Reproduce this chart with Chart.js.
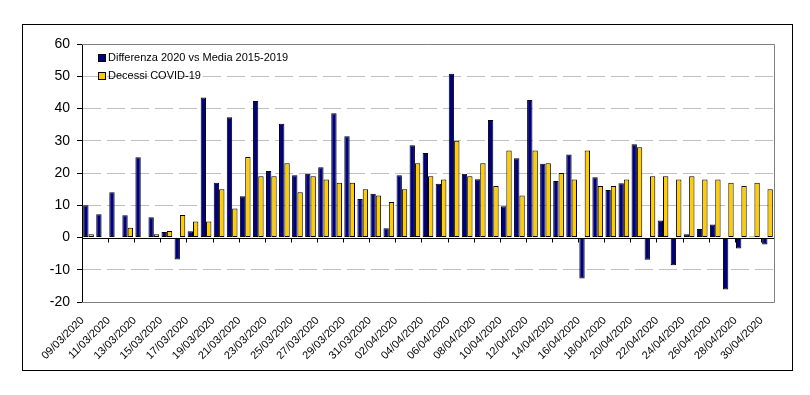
<!DOCTYPE html>
<html>
<head>
<meta charset="utf-8">
<script src="https://cdn.jsdelivr.net/npm/chart.js@4.4.1/dist/chart.umd.min.js"></script>
<style>
    body { margin: 0; background: #fff; }
    #contenitore { position: relative; width: 810px; height: 395px; }
    #cornice {
        position: absolute; left: 22px; top: 24px; width: 769px; height: 345px;
        border: 1px solid #000; pointer-events: none;
    }
    #legenda {
        position: absolute; left: 98px; top: 49px;
        font-family: Arial, "Liberation Sans", sans-serif; font-size: 11px; color: #000;
    }
    .voce { height: 17.5px; line-height: 17px; white-space: nowrap; }
    .quadrato {
        display: inline-block; width: 6px; height: 6px; border: 1px solid #000;
        margin-right: 2px; vertical-align: -1px;
    }
</style>
</head>
<body>
<div id="contenitore">
    <canvas id="grafico" width="810" height="395"></canvas>
    <div id="cornice"></div>
    <div id="legenda"></div>
</div>
<script>
var date = [
    "09/03/2020", "10/03/2020", "11/03/2020", "12/03/2020", "13/03/2020", "14/03/2020",
    "15/03/2020", "16/03/2020", "17/03/2020", "18/03/2020", "19/03/2020", "20/03/2020",
    "21/03/2020", "22/03/2020", "23/03/2020", "24/03/2020", "25/03/2020", "26/03/2020",
    "27/03/2020", "28/03/2020", "29/03/2020", "30/03/2020", "31/03/2020", "01/04/2020",
    "02/04/2020", "03/04/2020", "04/04/2020", "05/04/2020", "06/04/2020", "07/04/2020",
    "08/04/2020", "09/04/2020", "10/04/2020", "11/04/2020", "12/04/2020", "13/04/2020",
    "14/04/2020", "15/04/2020", "16/04/2020", "17/04/2020", "18/04/2020", "19/04/2020",
    "20/04/2020", "21/04/2020", "22/04/2020", "23/04/2020", "24/04/2020", "25/04/2020",
    "26/04/2020", "27/04/2020", "28/04/2020", "29/04/2020", "30/04/2020"
];

var differenza = [
    10.0, 7.2, 14.0, 6.9, 24.9, 6.3, 1.7, -6.8, 1.9, 43.4, 17.0, 37.3,
    12.8, 42.3, 20.6, 35.3, 19.3, 19.8, 21.8, 38.5, 31.4, 11.9, 13.6, 2.9,
    19.3, 28.6, 26.2, 16.7, 50.8, 19.8, 18.1, 36.4, 9.7, 24.6, 42.6, 22.9,
    17.5, 25.7, -12.7, 18.7, 14.7, 16.8, 28.9, -6.9, 5.3, -8.6, 1.0, 2.6,
    4.0, -16.1, -3.4, 0.3, -2.2
];

var decessiCovid = [
    1, 0, 0, 3, 0, 1, 2, 7, 5, 5, 15, 9,
    25, 19, 19, 23, 14, 19, 18, 17, 17, 15, 13, 11,
    15, 23, 19, 18, 30, 19, 23, 16, 27, 13, 27, 23,
    20, 18, 27, 16, 16, 18, 28, 19, 19, 18, 19, 18,
    18, 17, 16, 17, 15
];

var tickAsseY = [60, 50, 40, 30, 20, 10, 0, -10, -20];

var serie = [
    { nome: "Differenza 2020 vs Media 2015-2019", valori: differenza, colore: "#000080" },
    { nome: "Decessi COVID-19", valori: decessiCovid, colore: "#FFCC00" }
];

var fontBase = "Arial, 'Liberation Sans', sans-serif";

// cornice grigia, linea dello zero e tacche ogni due giorni
var pluginAssi = {
    id: "pluginAssi",
    afterDraw: function (chart) {
        var ctx = chart.ctx;
        var area = chart.chartArea;
        var x = chart.scales.x;
        var y = chart.scales.y;

        ctx.save();
        ctx.strokeStyle = "#808080";
        ctx.lineWidth = 1;
        ctx.beginPath();
        ctx.moveTo(area.left, area.top + 0.5);
        ctx.lineTo(area.right + 0.5, area.top + 0.5);
        ctx.lineTo(area.right + 0.5, area.bottom + 0.5);
        ctx.lineTo(area.left, area.bottom + 0.5);
        ctx.stroke();

        var y0 = Math.round(y.getPixelForValue(0)) + 0.5;
        ctx.strokeStyle = "#000";
        ctx.beginPath();
        ctx.moveTo(area.left, y0);
        ctx.lineTo(area.right, y0);
        var passo = (area.right - area.left) / date.length;
        for (var i = 2; i < date.length; i += 2) {
            var xt = Math.round(x.getPixelForValue(i) - passo / 2) + 0.5;
            ctx.moveTo(xt, y0);
            ctx.lineTo(xt, y0 + 4);
        }
        ctx.stroke();
        ctx.restore();
    }
};

var datasets = [];
for (var i = 0; i < serie.length; i++) {
    datasets.push({
        label: serie[i].nome,
        data: serie[i].valori,
        backgroundColor: serie[i].colore,
        borderColor: "#000",
        borderWidth: 1,
        borderSkipped: false,
        categoryPercentage: 0.82,
        barPercentage: 1.0
    });
}

var config = {
    type: "bar",
    data: { labels: date, datasets: datasets },
    plugins: [pluginAssi],
    options: {
        responsive: false,
        animation: false,
        layout: { padding: { top: 44, right: 36, left: 0, bottom: 0 } },
        plugins: {
            legend: { display: false },
            tooltip: { enabled: false }
        },
        scales: {
            x: {
                grid: { display: false, drawTicks: false },
                border: { display: false },
                ticks: {
                    autoSkip: false,
                    minRotation: 45,
                    maxRotation: 45,
                    padding: 12,
                    labelOffset: -6,
                    color: "#000",
                    font: { family: fontBase, size: 11 },
                    callback: function (valore, indice) {
                        return indice % 2 === 0 ? date[indice] : "";
                    }
                },
                afterFit: function (scala) { scala.height = 93; }
            },
            y: {
                min: tickAsseY[tickAsseY.length - 1],
                max: tickAsseY[0],
                afterBuildTicks: function (scala) {
                    scala.ticks = tickAsseY.map(function (v) { return { value: v }; });
                },
                grid: {
                    color: function (c) { return c.tick && c.tick.value === 0 ? "rgba(0,0,0,0)" : "#c0c0c0"; },
                    lineWidth: 1,
                    tickColor: "#000",
                    tickLength: 5,
                    tickBorderDash: []
                },
                border: { display: true, color: "#000", width: 1, dash: [18, 6] },
                ticks: {
                    padding: 7,
                    color: "#000",
                    font: { family: fontBase, size: 14 }
                },
                afterFit: function (scala) { scala.width = 82; }
            }
        }
    }
};

new Chart(document.getElementById("grafico"), config);

var legenda = document.getElementById("legenda");
for (var j = 0; j < serie.length; j++) {
    legenda.innerHTML += '<div class="voce"><span class="quadrato" style="background:' +
        serie[j].colore + '"></span>' + serie[j].nome + '</div>';
}
</script>
</body>
</html>
